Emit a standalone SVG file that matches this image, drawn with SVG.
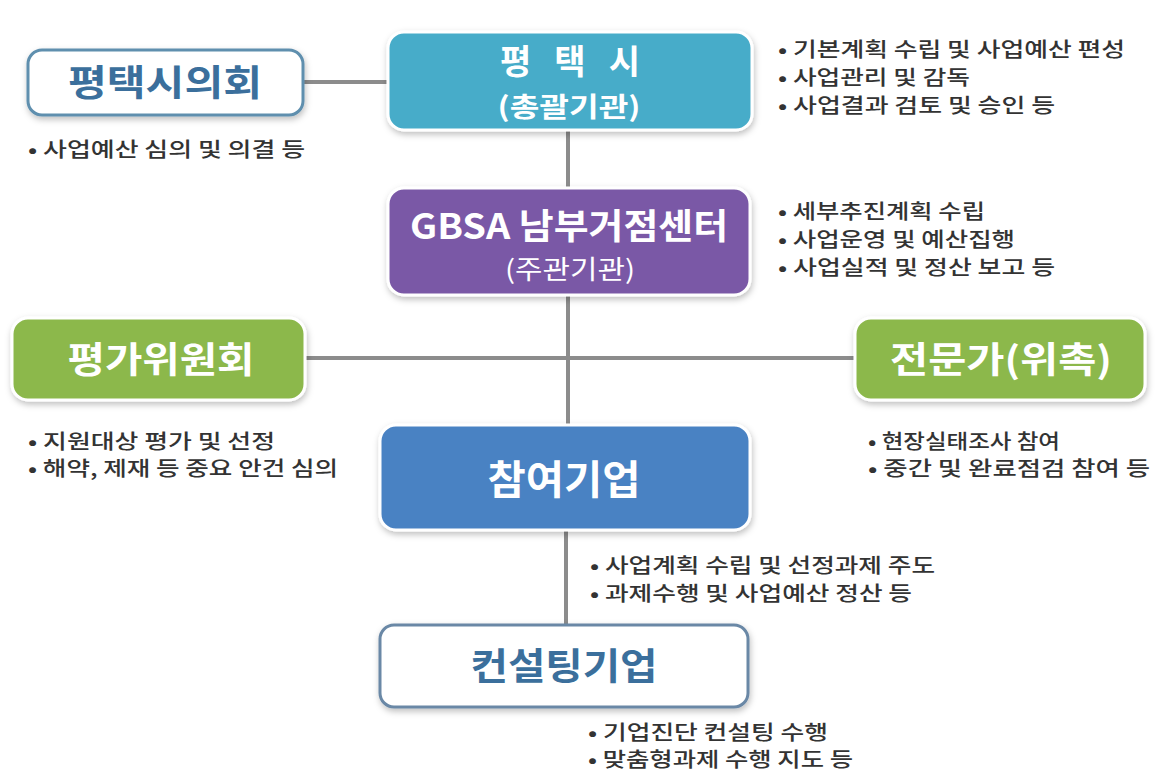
<svg xmlns="http://www.w3.org/2000/svg" width="1158" height="773" viewBox="0 0 1158 773">
<style>
.t{font-family:"Noto Sans CJK KR","Noto Sans",sans-serif}
.title{font-weight:700;text-anchor:middle}
.wt{fill:#ffffff}
.bt{fill:#3b6f9c}
.b{font-size:20px;fill:#333333;font-family:"Noto Sans CJK KR","Noto Sans",sans-serif;font-weight:500}
.con{stroke:#8c8c8c;stroke-width:4;fill:none}
</style>
<defs>
<filter id="sh" x="-10%" y="-20%" width="120%" height="150%">
<feDropShadow dx="1" dy="3" stdDeviation="3" flood-color="#000" flood-opacity="0.25"/>
</filter>
</defs>
<rect width="1158" height="773" fill="#ffffff"/>
<g id="connectors">
<line class="con" x1="303" y1="82" x2="390" y2="82"/>
<line class="con" x1="568" y1="130" x2="568" y2="190"/>
<line class="con" x1="568" y1="295" x2="568" y2="427"/>
<line class="con" x1="303" y1="358" x2="857" y2="358"/>
<line class="con" x1="566" y1="530" x2="566" y2="627"/>
</g>
<g id="council">
<rect x="28" y="50" width="275" height="65" rx="14" fill="#ffffff" stroke="#5f8fae" stroke-width="3" filter="url(#sh)"/>
<text class="t title bt" x="165" y="96" font-size="36" textLength="194" lengthAdjust="spacingAndGlyphs">평택시의회</text>
<text class="b" x="28" y="157" textLength="277" lengthAdjust="spacingAndGlyphs">• 사업예산 심의 및 의결 등</text>
</g>
<g id="city">
<rect x="388" y="32" width="364" height="98" rx="16" fill="#47acc9" stroke="#ffffff" stroke-width="3" filter="url(#sh)"/>
<text class="t title wt" x="570" y="74" font-size="34" textLength="140" lengthAdjust="spacing">평 택 시</text>
<text class="t title wt" x="569" y="117" font-size="27" font-weight="500" textLength="143" lengthAdjust="spacingAndGlyphs">(총괄기관)</text>
<text class="b" x="778" y="57" textLength="347" lengthAdjust="spacingAndGlyphs">• 기본계획 수립 및 사업예산 편성</text>
<text class="b" x="778" y="85" textLength="192" lengthAdjust="spacingAndGlyphs">• 사업관리 및 감독</text>
<text class="b" x="778" y="113" textLength="277" lengthAdjust="spacingAndGlyphs">• 사업결과 검토 및 승인 등</text>
</g>
<g id="gbsa">
<rect x="388" y="188" width="362" height="107" rx="16" fill="#7a58a6" stroke="#ffffff" stroke-width="3" filter="url(#sh)"/>
<text class="t title wt" x="569" y="239" font-size="35" textLength="318" lengthAdjust="spacingAndGlyphs">GBSA 남부거점센터</text>
<text class="t wt" x="570" y="279" font-size="26" text-anchor="middle" textLength="130" lengthAdjust="spacingAndGlyphs">(주관기관)</text>
<text class="b" x="778" y="219" textLength="207" lengthAdjust="spacingAndGlyphs">• 세부추진계획 수립</text>
<text class="b" x="778" y="247" textLength="237" lengthAdjust="spacingAndGlyphs">• 사업운영 및 예산집행</text>
<text class="b" x="778" y="275" textLength="277" lengthAdjust="spacingAndGlyphs">• 사업실적 및 정산 보고 등</text>
</g>
<g id="committee">
<rect x="12" y="318" width="293" height="82" rx="16" fill="#8cb84b" stroke="#ffffff" stroke-width="3" filter="url(#sh)"/>
<text class="t title wt" x="161" y="373" font-size="36" textLength="187" lengthAdjust="spacingAndGlyphs">평가위원회</text>
<text class="b" x="28" y="449" textLength="247" lengthAdjust="spacingAndGlyphs">• 지원대상 평가 및 선정</text>
<text class="b" x="28" y="476" textLength="310" lengthAdjust="spacingAndGlyphs">• 해약, 제재 등 중요 안건 심의</text>
</g>
<g id="expert">
<rect x="855" y="318" width="290" height="82" rx="16" fill="#8cb84b" stroke="#ffffff" stroke-width="3" filter="url(#sh)"/>
<text class="t title wt" x="1001" y="373" font-size="36" textLength="222" lengthAdjust="spacingAndGlyphs">전문가(위촉)</text>
<text class="b" x="868" y="449" textLength="192" lengthAdjust="spacingAndGlyphs">• 현장실태조사 참여</text>
<text class="b" x="868" y="476" textLength="282" lengthAdjust="spacingAndGlyphs">• 중간 및 완료점검 참여 등</text>
</g>
<g id="company">
<rect x="380" y="425" width="370" height="105" rx="16" fill="#4a82c3" stroke="#ffffff" stroke-width="3" filter="url(#sh)"/>
<text class="t title wt" x="564" y="494" font-size="40" textLength="153" lengthAdjust="spacingAndGlyphs">참여기업</text>
<text class="b" x="590" y="573" textLength="345" lengthAdjust="spacingAndGlyphs">• 사업계획 수립 및 선정과제 주도</text>
<text class="b" x="590" y="601" textLength="322" lengthAdjust="spacingAndGlyphs">• 과제수행 및 사업예산 정산 등</text>
</g>
<g id="consulting">
<rect x="380" y="625" width="368" height="82" rx="14" fill="#ffffff" stroke="#6a88a6" stroke-width="3" filter="url(#sh)"/>
<text class="t title bt" x="564" y="680" font-size="37" textLength="187" lengthAdjust="spacingAndGlyphs">컨설팅기업</text>
<text class="b" x="588" y="740" textLength="240" lengthAdjust="spacingAndGlyphs">• 기업진단 컨설팅 수행</text>
<text class="b" x="588" y="767" textLength="265" lengthAdjust="spacingAndGlyphs">• 맞춤형과제 수행 지도 등</text>
</g>
</svg>
